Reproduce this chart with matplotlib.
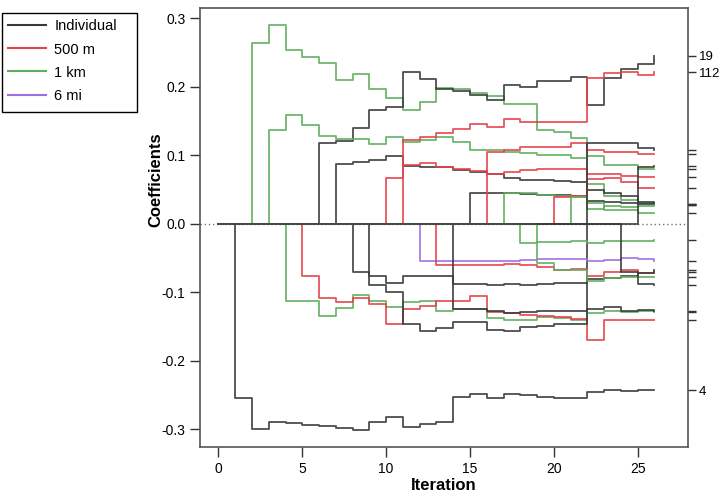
import numpy as np
import matplotlib.pyplot as plt
from matplotlib.patches import Rectangle

plt.rcParams['font.family'] = ['Liberation Sans', 'DejaVu Sans']

iteration = np.arange(27)

# coefficient paths, value held from iteration k to k+1 (last value = end point)
black_4 = [0, -0.255, -0.300, -0.290, -0.291, -0.294, -0.296, -0.298, -0.301, -0.289, -0.282, -0.297, -0.293,
           -0.289, -0.253, -0.249, -0.254, -0.249, -0.250, -0.253, -0.254, -0.254, -0.246, -0.243, -0.244, -0.243, -0.243]
green_a = [0, 0, 0.264, 0.290, 0.254, 0.243, 0.235, 0.210, 0.218, 0.196, 0.183, 0.166, 0.178, 0.198, 0.196,
           0.191, 0.186, 0.175, 0.175, 0.136, 0.134, 0.125, 0.099, 0.085, 0.085, 0.080, 0.079]
black_19 = [0, 0, 0, 0, 0, 0, 0.117, 0.120, 0.140, 0.166, 0.170, 0.221, 0.211, 0.196, 0.194, 0.188, 0.180,
            0.202, 0.199, 0.208, 0.208, 0.214, 0.173, 0.212, 0.225, 0.233, 0.245]
green_b = [0, 0, 0, 0.136, 0.159, 0.144, 0.128, 0.124, 0.124, 0.116, 0.127, 0.119, 0.122, 0.126, 0.119, 0.107,
           0.107, 0.104, 0.103, 0.100, 0.100, 0.096, 0.058, 0.040, 0.035, 0.030, 0.027]
black_a = [0, 0, 0, 0, 0, 0, 0, 0.087, 0.090, 0.093, 0.098, 0.084, 0.083, 0.082, 0.078, 0.076, 0.072, 0.067,
           0.064, 0.064, 0.062, 0.060, 0.049, 0.045, 0.040, 0.032, 0.029]
red_a = [0] * 10 + [0.066, 0.086, 0.088, 0.083, 0.079, 0.077, 0.073, 0.076, 0.078, 0.079, 0.079, 0.079, 0.072,
                    0.072, 0.070, 0.068, 0.068]
red_112 = [0] * 11 + [0.122, 0.126, 0.132, 0.138, 0.145, 0.141, 0.152, 0.148, 0.148, 0.148, 0.148, 0.212,
                      0.220, 0.221, 0.217, 0.221]
black_b = [0] * 15 + [0.045, 0.045, 0.044, 0.043, 0.042, 0.042, 0.040, 0.033, 0.031, 0.030, 0.028, 0.029]
red_b = [0] * 16 + [0.105, 0.107, 0.112, 0.112, 0.112, 0.117, 0.107, 0.104, 0.104, 0.101, 0.101]
green_c = [0] * 17 + [0.045, 0.045, 0.041, 0.040, 0.039, 0.022, 0.025, 0.024, 0.025, 0.027]
red_c = [0] * 20 + [0.039, 0.040, 0.065, 0.066, 0.060, 0.052, 0.052]
green_d = [0] * 21 + [0.039, 0.030, 0.020, 0.020, 0.016, 0.015]
black_c = [0] * 25 + [0.083, 0.084]

green_e = [0, 0, 0, 0, -0.113, -0.113, -0.135, -0.123, -0.104, -0.113, -0.122, -0.115, -0.113, -0.128, -0.125,
           -0.125, -0.138, -0.140, -0.141, -0.137, -0.138, -0.140, -0.130, -0.127, -0.129, -0.128, -0.129]
red_d = [0, 0, 0, 0, 0, -0.077, -0.108, -0.114, -0.109, -0.117, -0.146, -0.124, -0.120, -0.113, -0.113, -0.105,
         -0.129, -0.131, -0.134, -0.135, -0.136, -0.139, -0.170, -0.140, -0.140, -0.141, -0.140]
black_d = [0] * 8 + [-0.071, -0.077, -0.087, -0.076, -0.076, -0.077, -0.124, -0.124, -0.127, -0.131, -0.129,
                     -0.127, -0.127, -0.127, 0.117, 0.117, 0.117, 0.111, 0.108]
black_e = [0] * 9 + [-0.090, -0.100, -0.146, -0.156, -0.153, -0.144, -0.144, -0.155, -0.156, -0.151, -0.150,
                     -0.146, -0.146, -0.124, -0.121, -0.127, -0.126, -0.127]
purple_a = [0] * 12 + [-0.055, -0.055, -0.055, -0.054, -0.055, -0.054, -0.053, -0.052, -0.052, -0.051, -0.055,
                       -0.053, -0.050, -0.051, -0.054]
red_e = [0] * 13 + [-0.061, -0.061, -0.060, -0.060, -0.059, -0.060, -0.063, -0.068, -0.066, -0.076, -0.071,
                    -0.068, -0.072, -0.071]
black_f = [0] * 14 + [-0.088, -0.088, -0.090, -0.088, -0.089, -0.088, -0.087, -0.087, -0.081, -0.079, -0.076,
                      -0.072, -0.067]
green_f = [0] * 18 + [-0.029, -0.027, -0.027, -0.025, -0.028, -0.026, -0.026, -0.025, -0.024]
green_g = [0] * 19 + [-0.057, -0.068, -0.068, -0.084, -0.080, -0.078, -0.078, -0.078]
black_g = [0] * 24 + [-0.070, -0.088, -0.090]

c_black, c_red, c_green, c_purple = '#3a3a3a', '#e5424a', '#5fae5f', '#9d6fe0'

paths = [
    (black_4, c_black), (green_a, c_green), (black_19, c_black), (green_b, c_green), (black_a, c_black),
    (red_a, c_red), (red_112, c_red), (black_b, c_black), (red_b, c_red), (green_c, c_green), (red_c, c_red),
    (green_d, c_green), (black_c, c_black), (green_e, c_green), (red_d, c_red), (black_d, c_black),
    (black_e, c_black), (purple_a, c_purple), (red_e, c_red), (black_f, c_black), (green_f, c_green),
    (green_g, c_green), (black_g, c_black),
]

fig = plt.figure(figsize=(7.2, 4.97), dpi=100)
ax = fig.add_axes([0.2778, 0.1006, 0.6778, 0.8833])

ax.axhline(0, color='#777777', lw=1, ls=(0, (1, 2)), zorder=1)
for vals, col in paths:
    ax.step(iteration, vals, where='post', color=col, lw=1.3, alpha=0.9, zorder=2)

ax.set_xlim(-1.1, 28.0)
ax.set_ylim(-0.326, 0.3146)
ax.set_xticks([0, 5, 10, 15, 20, 25])
ax.set_yticks([-0.3, -0.2, -0.1, 0.0, 0.1, 0.2, 0.3])
ax.set_yticklabels(['-0.3', '-0.2', '-0.1', '0.0', '0.1', '0.2', '0.3'])
ax.tick_params(direction='out', length=7, width=1, colors='#333333', labelsize=10, labelcolor='black')
for sp in ax.spines.values():
    sp.set_color('#555555')
    sp.set_linewidth(1.2)
ax.set_xlabel('Iteration', fontsize=12, fontweight='bold', labelpad=2)
ax.set_ylabel('Coefficients', fontsize=12, fontweight='bold', labelpad=3)
ax.yaxis.set_label_coords(-0.076, 0.61)

# right-hand ticks at the final values
finals = [p[0][-1] for p in paths if p[0][-1] != 0]
labels = {black_19[-1]: '19', red_112[-1]: '112', black_4[-1]: '4'}
ax2 = ax.twinx()
ax2.set_ylim(ax.get_ylim())
ax2.set_yticks(finals)
ax2.set_yticklabels([labels.get(v, '') for v in finals])
ax2.tick_params(direction='out', length=6, width=1, pad=2, colors='#333333', labelsize=9.5,
                labelcolor='black')
for sp in ax2.spines.values():
    sp.set_visible(False)

handles = [plt.Line2D([], [], color=c, lw=1.5) for c in (c_black, c_red, c_green, c_purple)]
fig.legend(handles, ['Individual', '500 m', '1 km', '6 mi'], loc='upper left',
           bbox_to_anchor=(0.0025, 0.974), borderaxespad=0, frameon=False,
           fontsize=10.5, handlelength=2.6, labelspacing=0.62, borderpad=0.45, handletextpad=0.55)
fig.patches.append(Rectangle((2 / 720, 1 - 112 / 497), 135 / 720, 99 / 497, transform=fig.transFigure,
                             fill=False, edgecolor='black', lw=1))

fig.savefig('out.png', dpi=100)
